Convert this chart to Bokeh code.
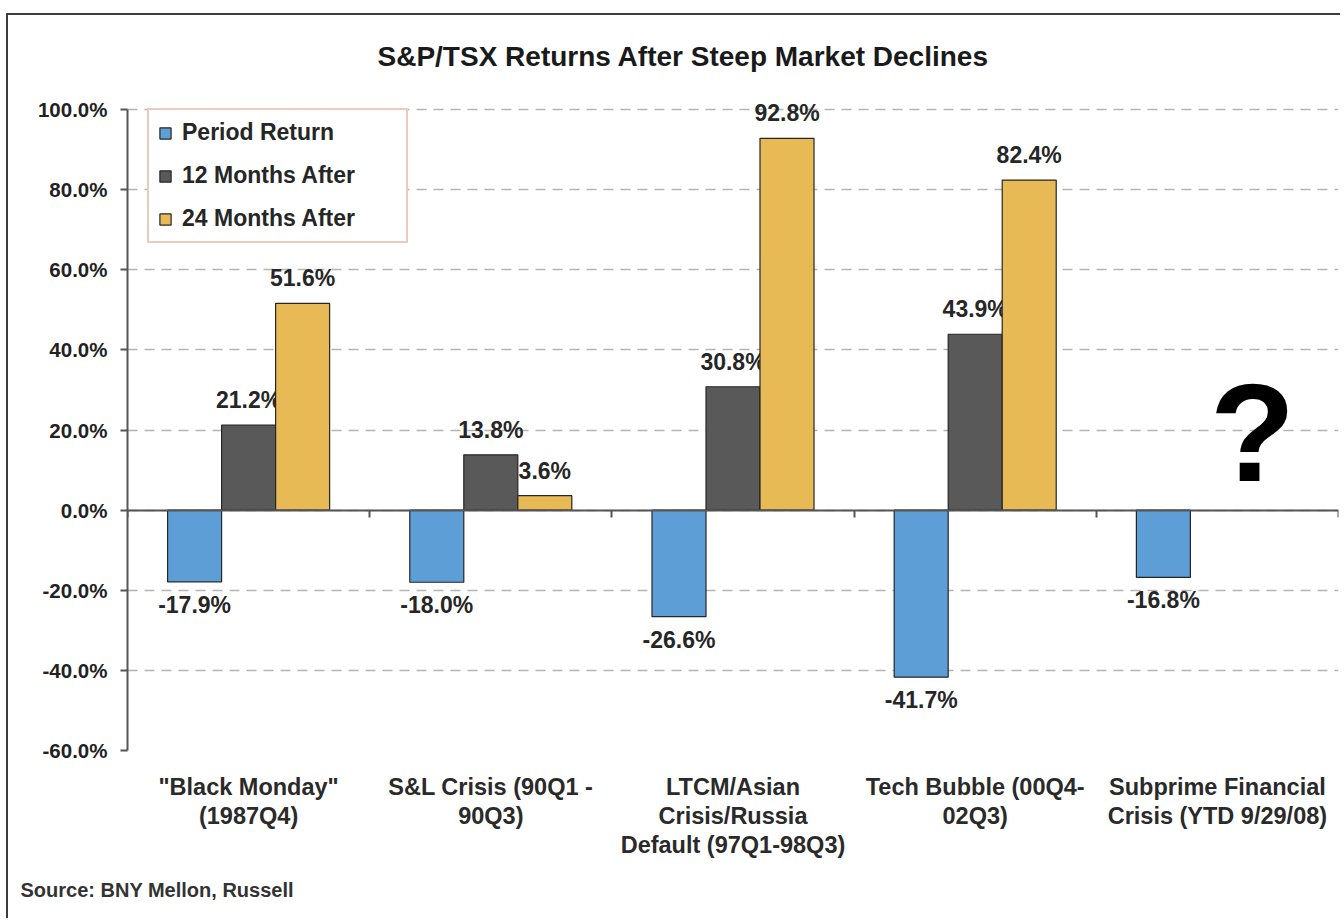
import math
from bokeh.plotting import figure
from bokeh.models import (LinearAxis, FixedTicker, PrintfTickFormatter, Legend, LegendItem,
                          Label, Range1d, ColumnDataSource, Title)
from bokeh.core.properties import value
from bokeh.embed import file_html
from bokeh.resources import INLINE

# ---------------- data ----------------
categories = ['"Black Monday"\n(1987Q4)',
              "S&L Crisis (90Q1 -\n90Q3)",
              "LTCM/Asian\nCrisis/Russia\nDefault (97Q1-98Q3)",
              "Tech Bubble (00Q4-\n02Q3)",
              "Subprime Financial\nCrisis (YTD 9/29/08)"]
series_names = ["Period Return", "12 Months After", "24 Months After"]
period_return = [-17.9, -18.0, -26.6, -41.7, -16.8]
months_12_after = [21.2, 13.8, 30.8, 43.9, float("nan")]
months_24_after = [51.6, 3.6, 92.8, 82.4, float("nan")]
y_ticks = [-60, -40, -20, 0, 20, 40, 60, 80, 100]

title_text = "S&P/TSX Returns After Steep Market Declines"
source_text = "Source: BNY Mellon, Russell"

# ---------------- style ----------------
FONT = "Liberation Sans"
colors = ["#5E9ED6", "#595959", "#E8BA56"]
bar_w = 0.223
offsets = [-bar_w, 0.0, bar_w]

W, H = 1334, 905
p = figure(width=W, height=H, output_backend="svg", toolbar_location=None,
           x_range=Range1d(0, len(categories)), y_range=Range1d(-60, 104),
           x_axis_location=None, y_axis_location="left",
           min_border_left=119, min_border_right=4, min_border_top=78, min_border_bottom=170)
p.margin = (13, 0, 0, 6)
p.styles = {"border-left": "2px solid #3c3c3c", "border-top": "2px solid #3c3c3c"}
p.outline_line_color = None
p.background_fill_color = "white"
p.border_fill_color = "white"
p.xgrid.visible = False

# title (above) and source (below)
p.add_layout(Title(text=title_text, align="left", offset=250, standoff=43,
                   text_font=FONT, text_font_style="bold", text_font_size="28px",
                   text_color="#1a1a1a"), "above")

# y axis
yax = p.yaxis[0]
yax.ticker = FixedTicker(ticks=y_ticks)
yax.bounds = (-60, 100)
yax.formatter = PrintfTickFormatter(format="%.1f%%")
yax.axis_line_color = "#555555"
yax.axis_line_width = 2
yax.major_tick_line_color = "#555555"
yax.major_tick_line_width = 2
yax.major_tick_out = 7
yax.major_tick_in = 0
yax.minor_tick_line_color = None
yax.major_label_standoff = 13
yax.major_label_text_font = FONT
yax.major_label_text_font_style = "bold"
yax.major_label_text_font_size = "20.5px"
yax.major_label_text_color = "#222222"

p.ygrid.ticker = FixedTicker(ticks=y_ticks)
p.ygrid.grid_line_color = "#b4b4b4"
p.ygrid.grid_line_dash = "10 7"
p.ygrid.grid_line_width = 1.5

# category labels axis
cat_axis = LinearAxis(ticker=FixedTicker(ticks=[i + 0.5 for i in range(len(categories))]),
                      major_label_overrides={i + 0.5: c for i, c in enumerate(categories)})
cat_axis.axis_line_color = None
cat_axis.major_tick_line_color = None
cat_axis.minor_tick_line_color = None
cat_axis.major_label_standoff = 17
cat_axis.major_label_text_font = FONT
cat_axis.major_label_text_font_style = "bold"
cat_axis.major_label_text_font_size = "23.5px"
cat_axis.major_label_text_color = "#2a2a2a"
cat_axis.major_label_text_line_height = 1.12
p.add_layout(cat_axis, "below")

# zero axis with boundary ticks
zero_axis = LinearAxis(ticker=FixedTicker(ticks=list(range(len(categories) + 1))), fixed_location=0)
zero_axis.axis_line_color = "#555555"
zero_axis.axis_line_width = 2
zero_axis.major_tick_line_color = "#555555"
zero_axis.major_tick_line_width = 2
zero_axis.major_tick_out = 7
zero_axis.major_tick_in = 0
zero_axis.minor_tick_line_color = None
zero_axis.major_label_standoff = 0
zero_axis.major_label_text_font_size = "0px"
zero_axis.major_label_text_alpha = 0
p.add_layout(zero_axis, "below")

p.add_layout(Title(text=source_text, align="left", offset=-107, standoff=32,
                   text_font=FONT, text_font_style="bold", text_font_size="20px",
                   text_color="#333333"), "below")

# ---------------- bars ----------------
all_series = [period_return, months_12_after, months_24_after]
renderers = []
for k, (vals, col, off) in enumerate(zip(all_series, colors, offsets)):
    xs, tops, labels = [], [], []
    for i, v in enumerate(vals):
        if v is None or math.isnan(v):
            continue
        xs.append(i + 0.5 + off)
        tops.append(v)
        labels.append(f"{v:.1f}%")
    src = ColumnDataSource(dict(x=xs, top=tops, label=labels))
    r = p.vbar(x="x", top="top", bottom=0, width=bar_w, source=src,
               fill_color=col, line_color="#262626", line_width=1.2)
    renderers.append(r)
    pos = ColumnDataSource(dict(x=[x for x, t in zip(xs, tops) if t >= 0],
                                y=[t for t in tops if t >= 0],
                                label=[l for l, t in zip(labels, tops) if t >= 0]))
    neg = ColumnDataSource(dict(x=[x for x, t in zip(xs, tops) if t < 0],
                                y=[t for t in tops if t < 0],
                                label=[l for l, t in zip(labels, tops) if t < 0]))
    for s, yoff in ((pos, -25), (neg, 23)):
        p.text(x="x", y="y", text="label", source=s, y_offset=yoff,
               text_align="center", text_baseline="alphabetic",
               text_font=value(FONT), text_font_style="bold", text_font_size="23px",
               text_color="#262626")

# ---------------- legend ----------------
legend = Legend(items=[LegendItem(label=n, renderers=[r]) for n, r in zip(series_names, renderers)],
                location=(20, 507))
legend.border_line_color = "#d39a7a"
legend.border_line_width = 2
legend.background_fill_color = "white"
legend.background_fill_alpha = 1.0
legend.glyph_width = 14
legend.glyph_height = 14
legend.label_height = 20
legend.spacing = 16
legend.padding = 9
legend.label_standoff = 10
legend.label_width = 215
legend.label_text_font = FONT
legend.label_text_font_style = "bold"
legend.label_text_font_size = "23px"
legend.label_text_color = "#262626"
p.add_layout(legend, "center")

# ---------------- question mark ----------------
p.add_layout(Label(x=4.645, y=19.5, text="?", text_align="center", text_baseline="alphabetic",
                   text_font=FONT, text_font_style="bold", text_font_size="140px", text_color="#000000"))

open("out.html", "w").write(file_html(p, INLINE))
